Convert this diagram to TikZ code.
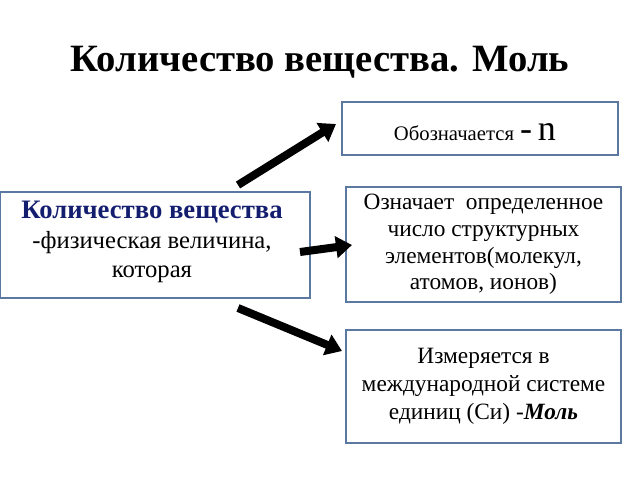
\documentclass[tikz,border=0pt]{standalone}
\usepackage{fontspec}
\setmainfont{Liberation Serif}
\usetikzlibrary{positioning,arrows.meta}
\definecolor{boxline}{RGB}{90,120,160}
\definecolor{titleblue}{RGB}{20,30,110}
\tikzset{
  infobox/.style={draw=boxline, line width=1.2pt, align=center, inner sep=0pt},
  fatarrow/.style={line width=6pt, -{Triangle[length=12pt,width=16pt]}, draw=black}
}
\begin{document}
\begin{tikzpicture}[x=0.75pt,y=-0.75pt]
   \useasboundingbox (0,0) rectangle (640,480);

   \node[font=\bfseries\fontsize{29}{34}\selectfont] (title) at (320,62) {Количество вещества. Моль};

   \node[infobox, minimum width=232.5pt, minimum height=79.5pt] (main) at (155,245) {};
   \node[align=center, font=\fontsize{18.5}{22}\selectfont] (maintext) at (152,242)
     {{\bfseries\color{titleblue}\fontsize{20}{22}\selectfont Количество вещества}\\-физическая величина,\\которая};

   \node[infobox, minimum width=207pt, minimum height=39.75pt] (sign) at (480,128.5) {};
   \node[font=\fontsize{15.5}{18}\selectfont] (signtext) at (475,132) {Обозначается{\fontsize{27}{28}\selectfont\,-\,n}};

   \node[infobox, minimum width=206pt, minimum height=86pt] (means) at (483.5,244.5) {};
   \node[align=center, font=\fontsize{17.5}{20}\selectfont] (meanstext) at (483.5,244.5)
     {Означает \ определенное\\число структурных\\элементов(молекул,\\атомов, ионов)};

   \node[infobox, minimum width=206pt, minimum height=84.75pt] (unit) at (483.5,386.5) {};
   \node[align=center, font=\fontsize{17.5}{21}\selectfont] (unittext) at (483.5,386.5)
     {Измеряется в\\международной системе\\единиц (Си) -{\bfseries\itshape Моль}};

   \coordinate (a1) at (238,185);
   \coordinate (b1) at (336,124);
   \coordinate (a2) at (300,252);
   \coordinate (b2) at (352,245);
   \coordinate (a3) at (238,308);
   \coordinate (b3) at (342,351);
   \draw[fatarrow] (a1) -- (b1);
   \draw[fatarrow] (a2) -- (b2);
   \draw[fatarrow] (a3) -- (b3);
\end{tikzpicture}
\end{document}
